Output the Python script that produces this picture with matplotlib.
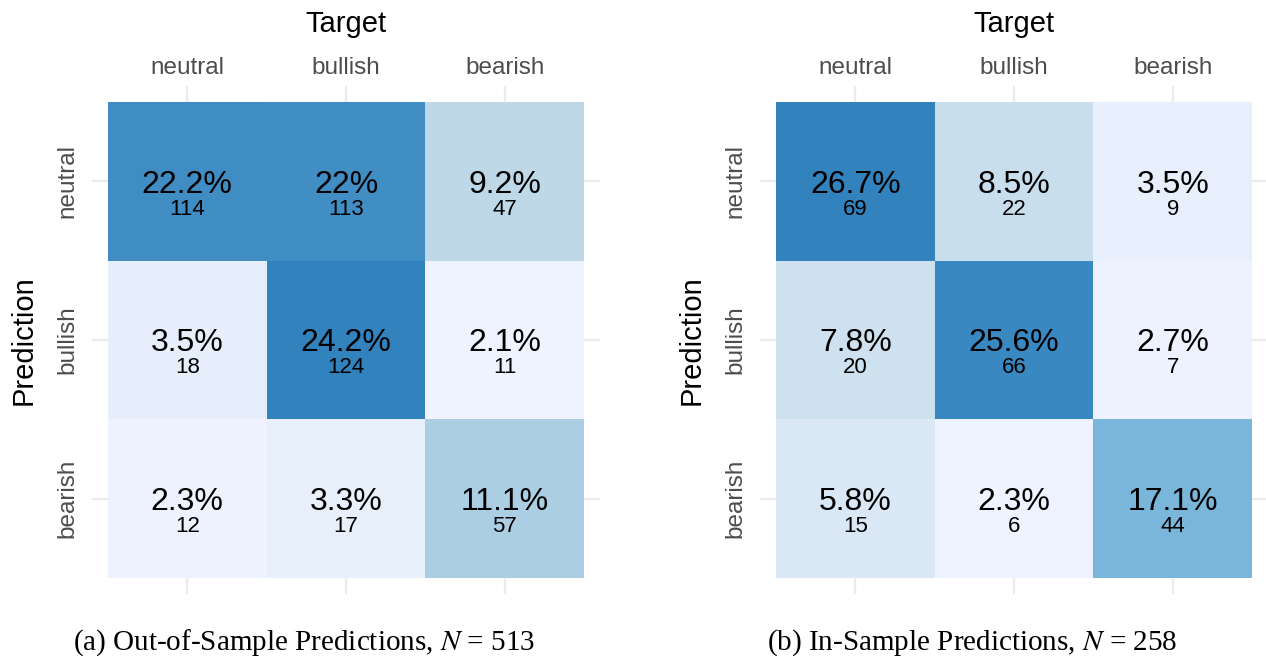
import numpy as np
import matplotlib
matplotlib.use("Agg")
import matplotlib.pyplot as plt
from matplotlib.colors import LinearSegmentedColormap

plt.rcParams['font.family'] = ['Liberation Sans', 'DejaVu Sans']
plt.rcParams['mathtext.fontset'] = 'stix'

classes = ["neutral", "bullish", "bearish"]

# rows = prediction, columns = target
counts_oos = [[114, 113, 47],
              [18, 124, 11],
              [12, 17, 57]]
counts_ins = [[69, 22, 9],
              [20, 66, 7],
              [15, 6, 44]]

captions = ["(a) Out-of-Sample Predictions, $N$ = {}",
            "(b) In-Sample Predictions, $N$ = {}"]

cmap = LinearSegmentedColormap.from_list(
    "blues4", ["#eff3ff", "#bdd7e7", "#6baed6", "#3182bd"])

W, H = 1266, 661
fig = plt.figure(figsize=(W / 100, H / 100), dpi=100)

panel_x = [92, 760]       # left edge of panel in px
cap_x = [304, 972]        # caption centre in px


def conf_panel(ax, counts):
    counts = np.array(counts)
    n = counts.sum()
    ax.pcolormesh(np.arange(4) - 0.5, np.arange(4) - 0.5, counts,
                  cmap=cmap, vmin=counts.min(), vmax=counts.max(), zorder=2)
    for i in range(3):
        for j in range(3):
            pct = round(100 * counts[i, j] / n, 1)
            ax.text(j, i + 0.072, f"{pct:g}%", ha="center", va="baseline",
                    fontsize=23, color="black", zorder=3)
            ax.text(j, i + 0.21, f"{counts[i, j]}", ha="center", va="baseline",
                    fontsize=16, color="black", zorder=3)
    ax.set_xlim(-0.6, 2.6)
    ax.set_ylim(2.6, -0.6)
    ax.set_xticks(range(3))
    ax.set_yticks(range(3))
    ax.set_xticklabels(classes)
    ax.set_yticklabels(classes, rotation=90, va="center")
    ax.xaxis.tick_top()
    ax.xaxis.set_label_position("top")
    ax.tick_params(length=0, labelsize=17.5, labelcolor="#4d4d4d")
    ax.tick_params(axis="x", pad=5)
    ax.tick_params(axis="y", pad=10)
    ax.grid(True, color="#ebebeb", linewidth=1.6, zorder=0)
    ax.set_axisbelow(True)
    for s in ax.spines.values():
        s.set_visible(False)
    ax.set_xlabel("Target", fontsize=21, labelpad=18)
    ax.set_ylabel("Prediction", fontsize=21, labelpad=13)
    return n


for k, counts in enumerate([counts_oos, counts_ins]):
    ax = fig.add_axes([panel_x[k] / W, 1 - 594 / H, 508 / W, 508 / H])
    n = conf_panel(ax, counts)
    fig.text(cap_x[k] / W, 1 - 643 / H, captions[k].format(n),
             ha="center", va="center", fontsize=21,
             family=["Liberation Serif", "DejaVu Serif"])

fig.savefig("out.png", dpi=100)
